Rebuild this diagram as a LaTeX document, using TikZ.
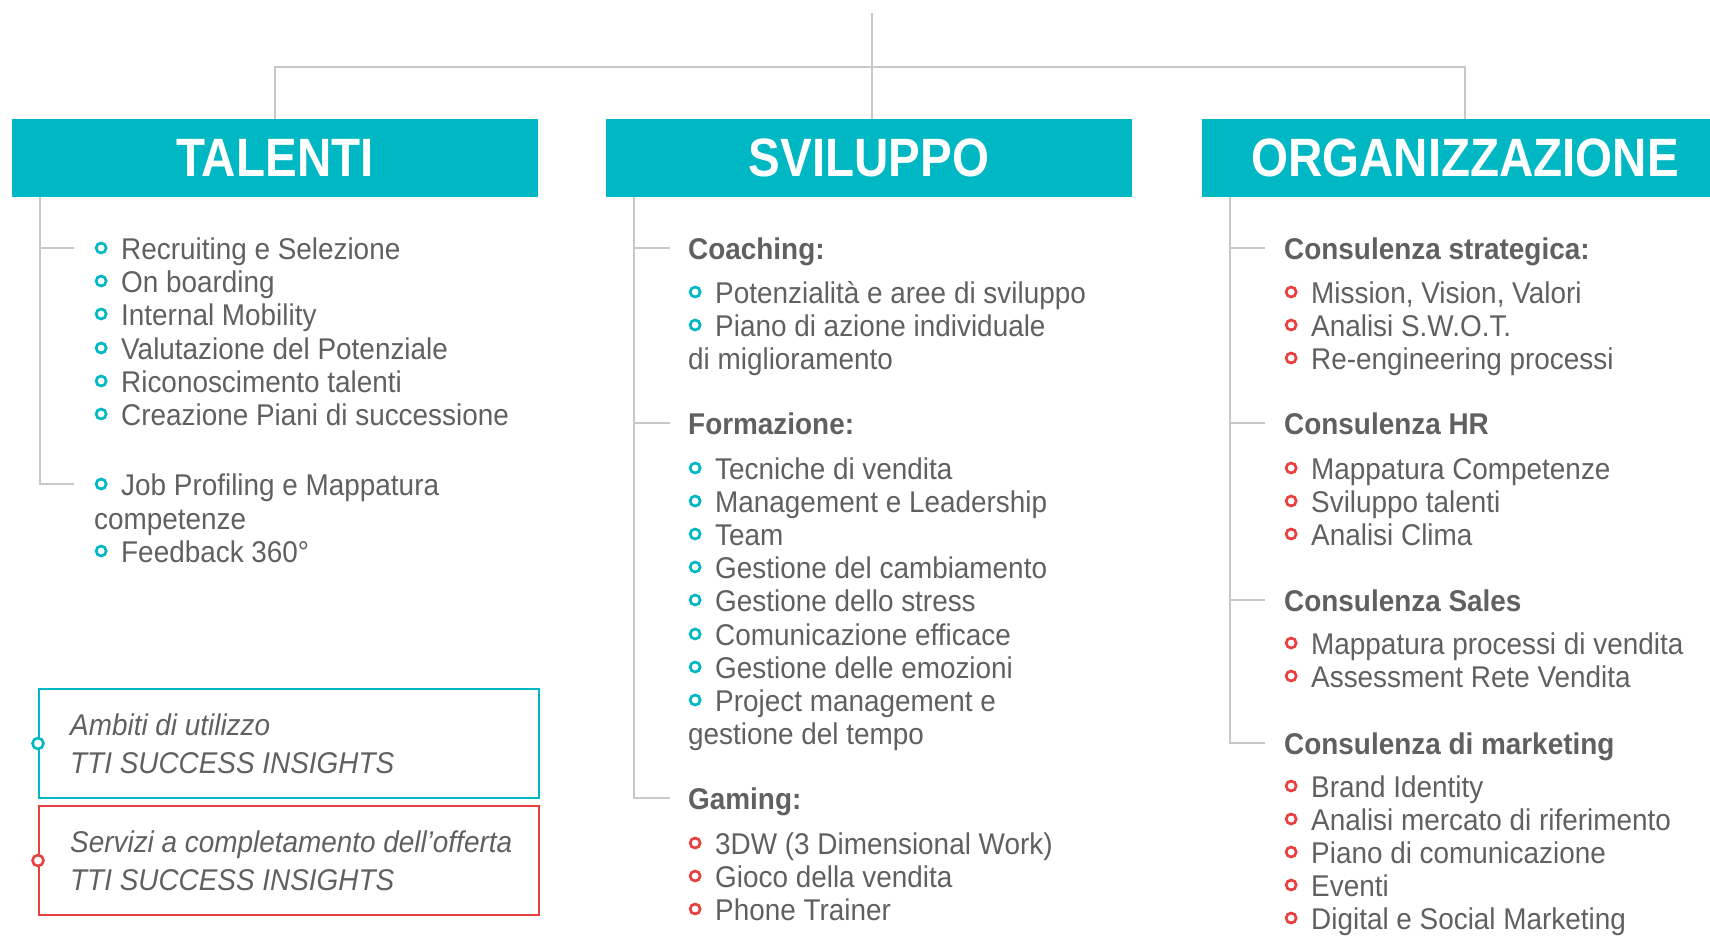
\documentclass[tikz,border=0pt]{standalone}
\usepackage{fontspec}
\setmainfont[FakeStretch=0.93]{Liberation Sans}
\newfontfamily\titlefont[FakeStretch=0.88]{Liberation Sans}

\definecolor{tealc}{RGB}{0,183,196}
\definecolor{redc}{RGB}{232,64,63}
\definecolor{txtc}{RGB}{96,96,96}
\definecolor{linec}{RGB}{200,200,200}

\tikzset{
  titlebox/.style={fill=tealc, text=white, minimum width=526pt, minimum height=78pt,
    inner sep=0pt, font=\titlefont\fontsize{54}{54}\selectfont\bfseries},
  tree/.style={draw=linec, line width=2pt},
  item/.style={anchor=west, inner sep=0pt, text height=22pt, text depth=0pt,
    text=txtc, font=\fontsize{30}{33}\selectfont},
  head/.style={item, font=\fontsize{30}{33}\selectfont\bfseries},
  bul/.style={circle, line width=2.7pt, minimum size=10pt, inner sep=0pt, label distance=13.5pt},
  tb/.style={item, label={[bul, draw=tealc]left:{}}},
  rb/.style={item, label={[bul, draw=redc]left:{}}},
  legbox/.style={line width=2pt, anchor=north west, minimum width=500pt, minimum height=109pt},
  legtxt/.style={anchor=west, inner sep=0pt, align=left, text=txtc,
    font=\fontsize{30}{38}\selectfont\itshape},
  legdot/.style={circle, fill=white, line width=2.6pt, minimum size=11pt, inner sep=0pt}
}

\begin{document}
\begin{tikzpicture}[x=1pt, y=-1pt]
  \useasboundingbox (0,0) rectangle (1710,935);
  \clip (0,0) rectangle (1710,935);

  % headers
  \coordinate (root) at (872,13);
  \node[titlebox] (tal) at (275,158) {TALENTI};
  \node[titlebox] (sv) at (869,158) {SVILUPPO};
  \node[titlebox] (org) at (1465,158) {ORGANIZZAZIONE};
  \draw[tree] (root) -- (root |- sv.north);
  \draw[tree] (tal.north) -- ++(0,-52) -| (org.north);

  % talenti
  \node[tb] (ta1) at (121,248) {Recruiting e Selezione};
  \node[tb] (ta2) at (121,281) {On boarding};
  \node[tb] (ta3) at (121,314) {Internal Mobility};
  \node[tb] (ta4) at (121,348) {Valutazione del Potenziale};
  \node[tb] (ta5) at (121,381) {Riconoscimento talenti};
  \node[tb] (ta6) at (121,414) {Creazione Piani di successione};
  \node[tb] (tb1) at (121,484) {Job Profiling e Mappatura};
    \node[item] (tb1b) at (94,518) {competenze};
  \node[tb] (tb2) at (121,551) {Feedback 360°};

  \coordinate (talr) at ([xshift=28]tal.south west);
  \draw[tree] (talr) |- ([xshift=-47]tb1.west);
  \draw[tree] (talr |- ta1.west) -- ([xshift=-47]ta1.west);

  % legenda
  \node[legbox, draw=tealc] (amb) at (38,688) {};
    \node[legtxt] (ambt) at ([xshift=32]amb.west) {Ambiti di utilizzo\\TTI SUCCESS INSIGHTS};
    \node[legdot, draw=tealc] (ambdot) at (amb.west) {};
  \node[legbox, draw=redc] (serv) at (38,805) {};
    \node[legtxt] (servt) at ([xshift=32]serv.west) {Servizi a completamento dell’offerta\\TTI SUCCESS INSIGHTS};
    \node[legdot, draw=redc] (servdot) at (serv.west) {};

  % sviluppo
  \node[head] (coa) at (688,248) {Coaching:};
    \node[tb] (coa1) at (715,292) {Potenzialità e aree di sviluppo};
    \node[tb] (coa2) at (715,325) {Piano di azione individuale};
    \node[item] (coa2b) at (688,358) {di miglioramento};
  \node[head] (form) at (688,423) {Formazione:};
    \node[tb] (form1) at (715,468) {Tecniche di vendita};
    \node[tb] (form2) at (715,501) {Management e Leadership};
    \node[tb] (form3) at (715,534) {Team};
    \node[tb] (form4) at (715,567) {Gestione del cambiamento};
    \node[tb] (form5) at (715,600) {Gestione dello stress};
    \node[tb] (form6) at (715,634) {Comunicazione efficace};
    \node[tb] (form7) at (715,667) {Gestione delle emozioni};
    \node[tb] (form8) at (715,700) {Project management e};
    \node[item] (form8b) at (688,733) {gestione del tempo};
  \node[head] (gam) at (688,798) {Gaming:};
    \node[rb] (gam1) at (715,843) {3DW (3 Dimensional Work)};
    \node[rb] (gam2) at (715,876) {Gioco della vendita};
    \node[rb] (gam3) at (715,909) {Phone Trainer};

  \coordinate (svr) at ([xshift=28]sv.south west);
  \draw[tree] (svr) |- ([xshift=-18]gam.west);
  \draw[tree] (svr |- coa.west) -- ([xshift=-18]coa.west);
  \draw[tree] (svr |- form.west) -- ([xshift=-18]form.west);

  % organizzazione
  \node[head] (str) at (1284,248) {Consulenza strategica:};
    \node[rb] (str1) at (1311,292) {Mission, Vision, Valori};
    \node[rb] (str2) at (1311,325) {Analisi S.W.O.T.};
    \node[rb] (str3) at (1311,358) {Re-engineering processi};
  \node[head] (hr) at (1284,423) {Consulenza HR};
    \node[rb] (hr1) at (1311,468) {Mappatura Competenze};
    \node[rb] (hr2) at (1311,501) {Sviluppo talenti};
    \node[rb] (hr3) at (1311,534) {Analisi Clima};
  \node[head] (sal) at (1284,600) {Consulenza Sales};
    \node[rb] (sal1) at (1311,643) {Mappatura processi di vendita};
    \node[rb] (sal2) at (1311,676) {Assessment Rete Vendita};
  \node[head] (mkt) at (1284,743) {Consulenza di marketing};
    \node[rb] (mkt1) at (1311,786) {Brand Identity};
    \node[rb] (mkt2) at (1311,819) {Analisi mercato di riferimento};
    \node[rb] (mkt3) at (1311,852) {Piano di comunicazione};
    \node[rb] (mkt4) at (1311,885) {Eventi};
    \node[rb] (mkt5) at (1311,918) {Digital e Social Marketing};

  \coordinate (orgr) at ([xshift=28]org.south west);
  \draw[tree] (orgr) |- ([xshift=-19]mkt.west);
  \draw[tree] (orgr |- str.west) -- ([xshift=-19]str.west);
  \draw[tree] (orgr |- hr.west) -- ([xshift=-19]hr.west);
  \draw[tree] (orgr |- sal.west) -- ([xshift=-19]sal.west);
\end{tikzpicture}
\end{document}
